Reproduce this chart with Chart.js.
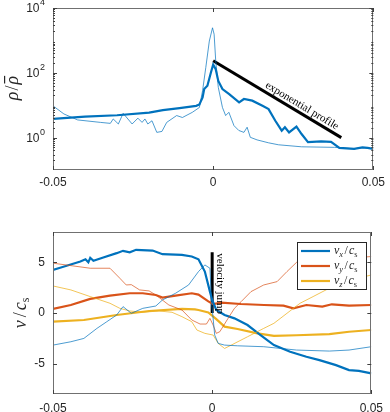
<!DOCTYPE html>
<html>
<head>
<meta charset="utf-8">
<script src="https://cdn.jsdelivr.net/npm/chart.js@4.4.0/dist/chart.umd.min.js"></script>
<style>
  body { margin: 0; background: #fff; }
  canvas { position: absolute; left: 0; }
  #top { top: 0; }
  #bot { top: 200px; }
</style>
</head>
<body>
<canvas id="top" width="390" height="195"></canvas>
<canvas id="bot" width="390" height="212"></canvas>
<script>
// ---- density panel (rho / rho bar, log axis) ----
const rhoThickX = [-0.05, -0.04, -0.03, -0.02, -0.0157, -0.0105, -0.0053, -0.0043, -0.0033, -0.0028, -0.0018, -0.0007, 0,
  0.0008, 0.0016, 0.0029, 0.005, 0.0081, 0.0096, 0.0122, 0.0154, 0.0173, 0.0194, 0.0214, 0.0224, 0.0237, 0.026, 0.0276,
  0.0296, 0.0337, 0.0368, 0.0394, 0.044, 0.0466, 0.0482, 0.05];
const rhoThick = [3.8, 4.47, 4.9, 5.89, 7.08, 8.13, 9.55, 10.5, 17.4, 31.6, 39.8, 102, 180,
  129, 56.2, 31.6, 21.9, 12.3, 15.5, 13.8, 9.55, 7.59, 3.31, 1.64, 2.09, 1.45, 2.19, 1.29,
  0.72, 0.76, 0.74, 0.48, 0.45, 0.5, 0.48, 0.45];

const rhoThinX = [-0.05, -0.0466, -0.0423, -0.0352, -0.0321, -0.0312, -0.0296, -0.0281, -0.0253, -0.0235, -0.0222,
  -0.0213, -0.0204, -0.0191, -0.0176, -0.016, -0.0145, -0.0114, -0.0096, -0.0065, -0.0043, -0.0033, -0.0023, -0.0012,
  -0.0002, 0.0003, 0.0008, 0.0016, 0.0029, 0.0039, 0.0049, 0.0065, 0.008, 0.0096, 0.0106, 0.0116, 0.0137, 0.0173,
  0.0204, 0.0276, 0.0379, 0.044, 0.0466, 0.05];
const rhoThin = [9.55, 5.37, 3.51, 2.95, 2.75, 3.76, 2.63, 5.62, 2.63, 3.98, 2.95,
  3.76, 2.63, 3.31, 1.45, 1.55, 2.95, 4.79, 4.17, 6.03, 8.51, 28.2, 145, 955,
  2450, 1550, 234, 35.5, 8.51, 4.79, 6.03, 2.34, 1.66, 1.45, 2.09, 1.02, 0.85, 0.69,
  0.6, 0.52, 0.5, 0.45, 0.49, 0.45];

const expoX = [0, 0.04];
const expoY = [234, 1];
const expoText = 'exponential profile';
const rhoTicks = [1, 100, 10000];

// ---- velocity panel ----
const vxThickX = [-0.05, -0.0475, -0.0414, -0.0398, -0.0389, -0.0383, -0.0373, -0.0342, -0.03, -0.028, -0.0259, -0.0239,
  -0.0187, -0.0156, -0.0095, -0.0064, -0.0043, -0.0023, -0.0007, 0, 0.0013, 0.0039, 0.007, 0.0111, 0.0152, 0.0194,
  0.0245, 0.0296, 0.0337, 0.0389, 0.043, 0.0461, 0.05];
const vxThick = [4.26, 4.49, 5.08, 5.3, 5.0, 5.45, 5.15, 5.48, 5.91, 6.14, 6.0, 6.24,
  6.17, 5.81, 5.74, 5.58, 5.3, 4.09, 2.11, 1.29, 0.3, -0.2, -0.53, -1.19, -2.18, -3.17,
  -3.83, -4.32, -4.65, -5.15, -5.64, -5.71, -5.97];

const vyThickX = [-0.05, -0.0444, -0.0383, -0.0321, -0.0259, -0.0218, -0.0177, -0.0156, -0.0115, -0.0064, -0.0043,
  -0.0012, 0.0003, 0.0029, 0.009, 0.0163, 0.0224, 0.0255, 0.0296, 0.0346, 0.0376, 0.043, 0.05];
const vyThick = [0.4, 0.79, 1.39, 1.71, 1.95, 1.95, 1.78, 1.52, 1.71, 1.95, 1.82,
  1.15, 0.87, 1.02, 0.89, 0.79, 0.73, 0.46, 0.79, 0.63, 0.86, 0.73, 0.79];

const vzThickX = [-0.05, -0.0403, -0.03, -0.0198, -0.0095, -0.0054, -0.0043, -0.0012, 0.0013, 0.0039, 0.008, 0.0142,
  0.0194, 0.0265, 0.0368, 0.043, 0.05];
const vzThick = [-0.86, -0.69, -0.2, 0.2, 0.4, 0.36, 0.3, 0.05, -0.6, -1.35, -1.58, -2.01,
  -2.25, -2.2, -2.08, -1.85, -1.68];

const vxThinX = [-0.05, -0.0444, -0.0403, -0.0362, -0.0331, -0.03, -0.028, -0.0254, -0.0218, -0.0177, -0.0156, -0.0115,
  -0.0074, -0.0043, -0.0023, -0.0007, -0.0002, 0.0008, 0.0019, 0.0039, 0.008, 0.0162, 0.0265, 0.0368, 0.043, 0.05];
const vxThin = [-3.17, -2.84, -2.51, -1.52, -0.86, -0.2, 0.63, -0.03, 0.46, 0.69, 1.29, 1.95,
  2.77, 4.09, 4.75, 4.42, 1.12, -2.18, -3.0, -3.17, -3.24, -3.33, -3.66, -3.76, -3.66, -3.33];

const vyThinX = [-0.05, -0.0444, -0.0383, -0.0321, -0.029, -0.027, -0.0254, -0.0228, -0.0198, -0.0177, -0.0136, -0.0095,
  -0.0064, -0.0038, -0.0018, -0.0007, 0.0003, 0.0013, 0.0024, 0.005, 0.007, 0.0091, 0.0122, 0.0162, 0.0204, 0.0235,
  0.0265, 0.035, 0.045, 0.05];
const vyThin = [4.92, 4.68, 4.42, 4.42, 3.43, 2.77, 2.8, 2.28, 2.18, 1.78, 0.79, 0.3,
  -0.69, -1.09, -1.09, -0.53, -1.19, -2.01, -1.85, -0.53, 0.46, 1.12, 2.11, 2.77, 3.1, 4.09,
  5.0, 5.3, 5.45, 5.58];

const vzThinX = [-0.05, -0.0444, -0.0383, -0.0321, -0.029, -0.0259, -0.0218, -0.0167, -0.0126, -0.0095, -0.0064, -0.0048,
  -0.0023, 0.0003, 0.0019, 0.0039, 0.006, 0.0111, 0.0162, 0.0194, 0.0235, 0.0276, 0.0317, 0.0368, 0.042, 0.05];
const vzThin = [2.67, 2.28, 1.62, 0.96, 0.46, 0.2, 0.07, 0.2, 0.07, -0.36, -0.86, -1.68,
  -2.01, -2.18, -3.0, -3.5, -3.17, -2.35, -1.52, -1.02, -0.03, 0.96, 1.62, 2.45, 3.1, 3.76];

const jumpX = [0, 0];
const jumpY = [6, 0];
const jumpText = 'velocity jump';
const vTicks = [-5, 0, 5];
const xTicks = [-0.05, 0, 0.05];

const BLUE = '#0072BD', RED = '#D95319', YEL = '#EDB120';
const BLUE_T = 'rgba(0,114,189,0.7)', RED_T = 'rgba(217,83,25,0.7)', YEL_T = 'rgba(237,177,32,0.75)';
const TXT = '#262626';
const SANS = '"Liberation Sans", Arial, sans-serif';
const SERIF = '"Liberation Serif", "Times New Roman", serif';

function pts(xs, ys) {
  return xs.map((x, i) => ({ x: x, y: ys[i] }));
}
function series(label, xs, ys, color, w) {
  return { label: label, data: pts(xs, ys), borderColor: color, borderWidth: w, pointRadius: 0, tension: 0, fill: false };
}

// draws small pieces of math-like text, returns the width
function rich(ctx, parts, x, y, draw) {
  let cx = x;
  parts.forEach(p => {
    ctx.font = (p.it ? 'italic ' : '') + p.s + 'px ' + SERIF;
    if (draw) ctx.fillText(p.t, cx, y + (p.dy || 0));
    cx += ctx.measureText(p.t).width + (p.gap || 0);
  });
  return cx - x;
}

function xAxis(h, pad) {
  return {
    type: 'linear', min: -0.05, max: 0.05,
    afterBuildTicks: s => { s.ticks = xTicks.map(v => ({ value: v })); },
    afterFit: s => { s.height = h; },
    grid: { display: false, drawTicks: false },
    border: { display: false },
    ticks: { padding: pad, color: TXT, font: { family: SANS, size: 12 }, maxRotation: 0,
      callback: v => String(v) }
  };
}

// box + inward ticks, like the original figure
function boxAndTicks(chart, minor) {
  const { ctx, chartArea: a, scales } = chart;
  ctx.save();
  ctx.strokeStyle = '#707070';
  ctx.lineWidth = 1;
  ctx.strokeRect(Math.round(a.left) + 0.5, Math.round(a.top) + 0.5, Math.round(a.width) - 1, Math.round(a.height) - 1);
  ctx.strokeStyle = '#404040';
  ctx.beginPath();
  scales.x.ticks.forEach(t => {
    const px = Math.round(scales.x.getPixelForValue(t.value)) + 0.5;
    ctx.moveTo(px, a.bottom); ctx.lineTo(px, a.bottom - 4);
    ctx.moveTo(px, a.top); ctx.lineTo(px, a.top + 4);
  });
  scales.y.ticks.forEach(t => {
    const py = Math.round(scales.y.getPixelForValue(t.value)) + 0.5;
    ctx.moveTo(a.left, py); ctx.lineTo(a.left + 4, py);
    ctx.moveTo(a.right, py); ctx.lineTo(a.right - 4, py);
  });
  minor.forEach(v => {
    const py = Math.round(scales.y.getPixelForValue(v)) + 0.5;
    ctx.moveTo(a.left, py); ctx.lineTo(a.left + 2, py);
    ctx.moveTo(a.right, py); ctx.lineTo(a.right - 2, py);
  });
  ctx.stroke();
  ctx.restore();
}

const minorLog = [];
for (let d = -1; d < 4; d++) for (let m = 2; m < 10; m++) minorLog.push(m * Math.pow(10, d));

// ---------- top chart ----------
const topDeco = {
  id: 'topDeco',
  afterDraw(chart) {
    const { ctx, scales } = chart;
    boxAndTicks(chart, minorLog);
    ctx.save();
    ctx.fillStyle = TXT;
    // y tick labels 10^n
    rhoTicks.forEach(v => {
      const py = scales.y.getPixelForValue(v);
      ctx.font = '12px ' + SANS;
      ctx.textAlign = 'right'; ctx.textBaseline = 'middle';
      ctx.fillText('10', 39.5, py + 1);
      ctx.font = '9px ' + SANS;
      ctx.textAlign = 'left';
      ctx.fillText(String(Math.round(Math.log10(v))), 40, py - 5);
    });
    // y title rho / rho-bar
    ctx.translate(15, 88);
    ctx.rotate(-Math.PI / 2);
    ctx.textAlign = 'left'; ctx.textBaseline = 'alphabetic';
    const parts = [{ t: '\u03C1', s: 18, it: true, gap: 1 }, { t: '/', s: 18, gap: 1 }, { t: '\u03C1', s: 18, it: true }];
    const w = rich(ctx, parts, 0, 0, false);
    rich(ctx, parts, -w / 2, 3, true);
    ctx.font = 'italic 18px ' + SERIF;
    const rw = ctx.measureText('\u03C1').width;
    ctx.fillRect(w / 2 - rw + 1, -11, rw - 1, 1.2);
    ctx.restore();

    // annotation along the exponential line
    const x0 = scales.x.getPixelForValue(expoX[0]), y0 = scales.y.getPixelForValue(expoY[0]);
    const x1 = scales.x.getPixelForValue(expoX[1]), y1 = scales.y.getPixelForValue(expoY[1]);
    const ang = Math.atan2(y1 - y0, x1 - x0);
    const f = 0.665;
    ctx.save();
    ctx.fillStyle = '#000';
    ctx.translate(x0 + f * (x1 - x0), y0 + f * (y1 - y0));
    ctx.rotate(ang);
    ctx.font = '11px ' + SERIF;
    ctx.textAlign = 'center'; ctx.textBaseline = 'alphabetic';
    ctx.fillText(expoText, 0, -4);
    ctx.restore();
  }
};

new Chart(document.getElementById('top'), {
  type: 'line',
  data: {
    datasets: [
      series('rho thin', rhoThinX, rhoThin, BLUE_T, 1),
      series('rho', rhoThickX, rhoThick, BLUE, 2.2),
      series('exponential', expoX, expoY, '#000', 3)
    ]
  },
  options: {
    responsive: false,
    animation: false,
    events: [],
    layout: { padding: { top: 8, right: 14, left: 0, bottom: 0 } },
    plugins: { legend: { display: false }, tooltip: { enabled: false } },
    scales: {
      x: xAxis(25, 5),
      y: {
        type: 'logarithmic', min: 0.1, max: 10000,
        afterBuildTicks: s => { s.ticks = rhoTicks.map(v => ({ value: v })); },
        afterFit: s => { s.width = 53; },
        grid: { display: false, drawTicks: false },
        border: { display: false },
        ticks: { display: false }
      }
    }
  },
  plugins: [topDeco]
});

// ---------- bottom chart ----------
const legendItems = [
  { color: BLUE, sub: 'x' },
  { color: RED, sub: 'y' },
  { color: YEL, sub: 'z' }
];

function vOverC(sub, size) {
  return [
    { t: 'v', s: size, it: true },
    { t: sub, s: size * 0.7, it: true, dy: size * 0.22, gap: 1.5 },
    { t: '/', s: size, gap: 1 },
    { t: 'c', s: size, it: true },
    { t: 's', s: size * 0.7, it: false, dy: size * 0.22 }
  ];
}

const botDeco = {
  id: 'botDeco',
  afterDraw(chart) {
    const { ctx, scales } = chart;
    boxAndTicks(chart, []);
    ctx.save();
    ctx.fillStyle = TXT;
    // y title v / c_s
    ctx.translate(23, 113);
    ctx.rotate(-Math.PI / 2);
    ctx.textBaseline = 'alphabetic'; ctx.textAlign = 'left';
    const parts = [
      { t: 'v', s: 18, it: true, gap: 3 }, { t: '/', s: 18, gap: 2 },
      { t: 'c', s: 18, it: true }, { t: 's', s: 12, dy: 3 }
    ];
    const w = rich(ctx, parts, 0, 0, false);
    rich(ctx, parts, -w / 2, 3, true);
    ctx.restore();

    // velocity jump label
    const jx = scales.x.getPixelForValue(jumpX[0]);
    const jy = scales.y.getPixelForValue(jumpY[0]);
    ctx.save();
    ctx.fillStyle = '#000';
    ctx.translate(jx + 4, jy + 1);
    ctx.rotate(Math.PI / 2);
    ctx.font = '11px ' + SERIF;
    ctx.textAlign = 'left'; ctx.textBaseline = 'alphabetic';
    ctx.fillText(jumpText, 0, -1);
    ctx.restore();

    // legend
    const lx = 297, ly = 42, lw = 69, lh = 47;
    ctx.save();
    ctx.fillStyle = '#fff';
    ctx.fillRect(lx, ly, lw, lh);
    ctx.strokeStyle = '#262626';
    ctx.lineWidth = 1;
    ctx.strokeRect(lx + 0.5, ly + 0.5, lw, lh);
    legendItems.forEach((it, i) => {
      const y = ly + 9 + i * 15;
      ctx.strokeStyle = it.color; ctx.lineWidth = 2.2;
      ctx.beginPath(); ctx.moveTo(lx + 4, y); ctx.lineTo(lx + 33, y); ctx.stroke();
      ctx.fillStyle = TXT;
      ctx.textBaseline = 'alphabetic'; ctx.textAlign = 'left';
      rich(ctx, vOverC(it.sub, 12), lx + 37, y + 3, true);
    });
    ctx.restore();
  }
};

new Chart(document.getElementById('bot'), {
  type: 'line',
  data: {
    datasets: [
      series('vx thin', vxThinX, vxThin, BLUE_T, 1),
      series('vy thin', vyThinX, vyThin, RED_T, 1),
      series('vz thin', vzThinX, vzThin, YEL_T, 1),
      series('vx', vxThickX, vxThick, BLUE, 2.2),
      series('vy', vyThickX, vyThick, RED, 2.2),
      series('vz', vzThickX, vzThick, YEL, 2.2),
      series('jump', jumpX, jumpY, '#000', 3)
    ]
  },
  options: {
    responsive: false,
    animation: false,
    events: [],
    layout: { padding: { top: 32, right: 14, left: 0, bottom: 0 } },
    plugins: { legend: { display: false }, tooltip: { enabled: false } },
    scales: {
      x: xAxis(18, 7),
      y: {
        type: 'linear', min: -8, max: 8,
        afterBuildTicks: s => { s.ticks = vTicks.map(v => ({ value: v })); },
        afterFit: s => { s.width = 53; },
        grid: { display: false, drawTicks: false },
        border: { display: false },
        ticks: { padding: 8, color: TXT, font: { family: SANS, size: 12 } }
      }
    }
  },
  plugins: [botDeco]
});
</script>
</body>
</html>
